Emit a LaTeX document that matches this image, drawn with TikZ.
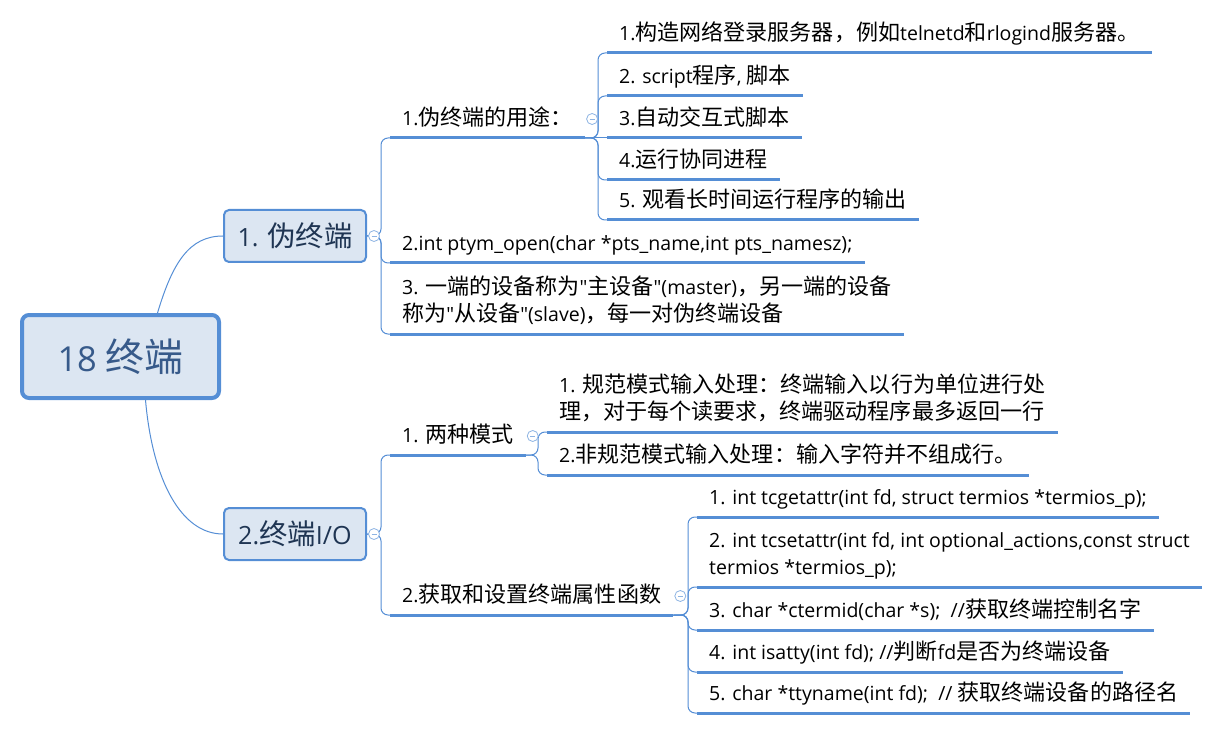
\documentclass[tikz,border=0pt]{standalone}
\usepackage{fontspec}
\setmainfont{Open Sans}[Scale=0.93, Ligatures=TeXOff]
\newfontfamily\cjkfont{Noto Sans CJK SC}[Scale=1.05]
% Chinese characters are set in the CJK font
\XeTeXinterchartokenstate=1
\newXeTeXintercharclass\cjkclass
\makeatletter
\def\cjkrange#1#2{\count@=#1
  \loop\ifnum\count@<#2 \XeTeXcharclass\count@=\cjkclass \advance\count@\@ne\repeat}
\cjkrange{"3000}{"3040}
\cjkrange{"4E00}{"A000}
\cjkrange{"FF00}{"FFF0}
\makeatother
\XeTeXinterchartoks 0 \cjkclass = {\cjkfont}
\XeTeXinterchartoks 4095 \cjkclass = {\cjkfont}
\XeTeXinterchartoks \cjkclass 0 = {\normalfont}
\XeTeXinterchartoks \cjkclass 4095 = {\normalfont}

\definecolor{mapblue}{HTML}{558ED5}
\definecolor{mapfill}{HTML}{DCE6F2}
\definecolor{roottext}{HTML}{375A8A}
\definecolor{boxtext}{HTML}{1F3553}
\definecolor{foldblue}{HTML}{8EB4E3}

\tikzset{
  rootbox/.style={draw=mapblue, line width=4pt, fill=mapfill, rounded corners=7pt,
    minimum width=197pt, minimum height=83pt, inner sep=0pt, text=roottext,
    font=\fontsize{37}{44}\selectfont},
  mainbox/.style={draw=mapblue, line width=2pt, fill=mapfill, rounded corners=5pt,
    minimum width=142pt, minimum height=52pt, inner sep=0pt, text=boxtext,
    font=\fontsize{27}{32}\selectfont},
  topic/.style={anchor=south west, inner xsep=12pt, inner ysep=6pt, text depth=6pt,
    align=left, font=\fontsize{21}{27}\selectfont},
  uline/.style={draw=mapblue, line width=3pt},
  link/.style={mapblue, line width=1pt, rounded corners=7pt},
  fold/.style={circle, draw=foldblue, fill=white, line width=0.8pt, minimum size=11pt, inner sep=0pt,
    path picture={\draw[foldblue, line width=0.8pt]
      ([xshift=-2.5pt]path picture bounding box.center) -- ([xshift=2.5pt]path picture bounding box.center);}},
}

\begin{document}
\begin{tikzpicture}[x=1pt, y=-1pt]
\useasboundingbox (0,0) rectangle (1232,730);

\node[rootbox] (root) at (120.5,356.5) {18 终端};
\node[mainbox] (pty) at (295,236) {1. 伪终端};
\node[mainbox] (tio) at (295,534) {2.终端I/O};
\draw[mapblue, line width=1pt] ([xshift=37pt]root.north) .. controls +(15,-50) and +(-34,0) .. (pty.west);
\draw[mapblue, line width=1pt] ([xshift=25pt]root.south) .. controls +(7,80) and +(-42,0) .. (tio.west);

% 1. 伪终端
\node[topic] (use) at (390,138) {1.伪终端的用途：};
\node[topic] (open) at (390,263) {2.int ptym\_open(char *pts\_name,int pts\_namesz);};
\node[topic] (pair) at (390,334) {3. 一端的设备称为"主设备"(master)，另一端的设备\\称为"从设备"(slave)，每一对伪终端设备};
\node[topic] (server) at (607,53) {1.构造网络登录服务器，例如telnetd和rlogind服务器。};
\node[topic] (script) at (607,96) {2. script程序, 脚本};
\node[topic] (expect) at (607,138) {3.自动交互式脚本};
\node[topic] (coproc) at (607,180) {4.运行协同进程};
\node[topic] (watch) at (607,220) {5. 观看长时间运行程序的输出};

% 2.终端I/O
\node[topic] (mode) at (390,455) {1. 两种模式};
\node[topic] (attr) at (390,615) {2.获取和设置终端属性函数};
\node[topic] (canon) at (547,432) {1. 规范模式输入处理：终端输入以行为单位进行处\\理，对于每个读要求，终端驱动程序最多返回一行};
\node[topic] (noncanon) at (547,475) {2.非规范模式输入处理：输入字符并不组成行。};
\node[topic] (getattr) at (697,517) {1. int tcgetattr(int fd, struct termios *termios\_p);};
\node[topic] (setattr) at (697,587) {2. int tcsetattr(int fd, int optional\_actions,const struct\\termios *termios\_p);};
\node[topic] (ctermid) at (697,630) {3. char *ctermid(char *s);\ \ //获取终端控制名字};
\node[topic] (isatty) at (697,672) {4. int isatty(int fd); //判断fd是否为终端设备};
\node[topic] (ttyname) at (697,713) {5. char *ttyname(int fd);\ \ // 获取终端设备的路径名};

% connectors
\foreach \n in {use,open,pair}
  \draw[link] (pty.east) -| ([xshift=-9pt]\n.south west) -- (\n.south west);
\foreach \n in {server,script,coproc,watch}
  \draw[link] (use.south east) -| ([xshift=-9pt]\n.south west) -- (\n.south west);
\draw[link] (use.south east) -- (expect.south west);
\foreach \n in {mode,attr}
  \draw[link] (tio.east) -| ([xshift=-9pt]\n.south west) -- (\n.south west);
\foreach \n in {canon,noncanon}
  \draw[link] (mode.south east) -| ([xshift=-9pt]\n.south west) -- (\n.south west);
\foreach \n in {getattr,setattr,ctermid,isatty,ttyname}
  \draw[link] (attr.south east) -| ([xshift=-9pt]\n.south west) -- (\n.south west);

\foreach \n in {use,open,pair,server,script,expect,coproc,watch,mode,attr,canon,noncanon,getattr,setattr,ctermid,isatty,ttyname}
  \draw[uline] (\n.south west) -- (\n.south east);

\node[fold] (pty-fold) at ([xshift=7pt]pty.east) {};
\node[fold] (tio-fold) at ([xshift=7pt]tio.east) {};
\node[fold] (use-fold) at ([shift={(7,-19)}]use.south east) {};
\node[fold] (mode-fold) at ([shift={(7,-19)}]mode.south east) {};
\node[fold] (attr-fold) at ([shift={(7,-19)}]attr.south east) {};
\end{tikzpicture}
\end{document}
